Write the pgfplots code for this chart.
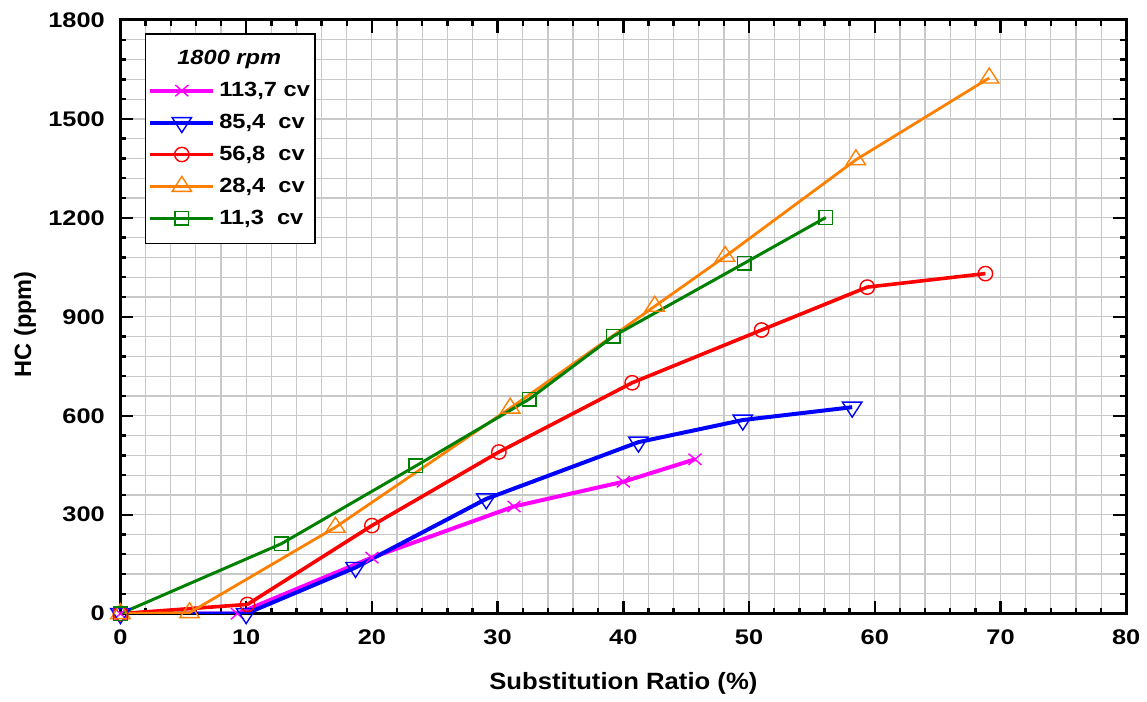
\documentclass[border=0pt]{standalone}
\usepackage{fontspec}
\setmainfont{Liberation Sans}[FakeStretch=1.15]
\newfontfamily\tickfont{Liberation Sans}[FakeStretch=1.2]
\newfontfamily\xlabfont{Liberation Sans}[FakeStretch=1.09]
\newfontfamily\ylabfont{Liberation Sans}
\usepackage{pgfplots}
\pgfplotsset{compat=1.18}
\usetikzlibrary{calc}
\definecolor{cmag}{RGB}{255,0,255}
\definecolor{cblue}{RGB}{0,0,255}
\definecolor{cred}{RGB}{255,0,0}
\definecolor{corange}{RGB}{255,128,0}
\definecolor{cgreen}{RGB}{0,128,0}
\definecolor{cgrid}{RGB}{200,200,200}
\begin{document}
\begin{tikzpicture}
\begin{axis}[
  scale only axis, width=504pt, height=297.5pt,
  xmin=0, xmax=80, ymin=0, ymax=1800,
  xtick={0,10,...,80}, ytick={0,300,...,1800},
  minor xtick={2,4,...,78}, minor ytick={60,120,...,1740},
  grid=both,
  major grid style={cgrid, line width=0.6pt},
  minor grid style={cgrid, line width=0.6pt},
  axis line style={line width=1.5pt},
  tick style={black, line width=1.2pt},
  major tick length=6.5pt, minor tick length=3pt,
  tick align=inside, xtick pos=both, ytick pos=both,
  xticklabel pos=left, yticklabel pos=left,
  /pgf/number format/assume math mode=true,
  /pgf/number format/1000 sep={},
  scaled ticks=false,
  ticklabel style={font=\tickfont\bfseries\fontsize{10.6}{12}\selectfont},
  yticklabel style={xshift=-4.3pt},
  xticklabel style={yshift=-4.5pt},
  legend image code/.code={\draw[mark repeat=2,mark phase=2] plot coordinates {(0pt,0pt) (15.75pt,0pt) (31.5pt,0pt)};},
  legend cell align=left,
  legend style={at={(rel axis cs:0.0241,0.978)}, anchor=north west,
    draw=black, line width=0.75pt, fill=white,
    font=\bfseries\fontsize{10.3}{11}\selectfont,
    row sep=4pt, column sep=1pt, inner xsep=1.5pt, inner ysep=6.5pt,
    nodes={inner sep=1pt, text height=8pt, text depth=2pt}},
]
\coordinate (sw) at (rel axis cs:0,0);
\coordinate (ne) at (rel axis cs:1,1);
\addlegendimage{empty legend}
\addlegendentry{\hspace*{-21pt}\itshape 1800 rpm}
\addplot[cmag, line width=2pt, mark=x, mark size=4pt, mark options={line width=0.7pt, xscale=1.15}]
  coordinates {(0,0) (9.3,0) (20,170) (31.3,325) (40,400) (45.7,468)};
\addlegendentry{113,7 cv}
\addplot[cblue, line width=2pt, mark=triangle, mark size=5pt, mark options={line width=0.7pt, fill=white, rotate=180, xscale=1.12}]
  coordinates {(0,0) (10,0) (18.7,140) (29.1,348) (41.2,520) (49.5,587) (58.2,626)};
\addlegendentry{85,4\ \ cv}
\addplot[cred, line width=1.8pt, mark=o, mark size=3.6pt, mark options={line width=0.7pt, fill=white}]
  coordinates {(0,0) (10.1,28) (20,267) (30.1,490) (40.7,700) (51,860) (59.4,990) (68.8,1031)};
\addlegendentry{56,8\ \ cv}
\addplot[corange, line width=1.4pt, mark=triangle, mark size=5pt, mark options={line width=0.7pt, fill=white, xscale=1.12}]
  coordinates {(0,0) (5.5,3) (17.1,262) (31,623) (42.5,932) (48.1,1083) (58.5,1376) (69.1,1624)};
\addlegendentry{28,4\ \ cv}
\addplot[cgreen, line width=1.5pt, mark=square, mark size=3.4pt, mark options={line width=0.7pt, fill=white}]
  coordinates {(0,0) (12.8,212) (23.5,448) (32.5,650) (39.2,841) (49.6,1062) (56.1,1201)};
\addlegendentry{11,3\ \ cv}
\end{axis}
\node[rotate=90, font=\ylabfont\bfseries\fontsize{11.8}{13}\selectfont] at ($(sw)!0.5!(sw|-ne)+(-47.85pt,-3.75pt)$) {HC (ppm)};
\node[font=\xlabfont\bfseries\fontsize{11.8}{13}\selectfont] at ($(sw)!0.5!(ne|-sw)+(0,-35pt)$) {Substitution Ratio (\%)};
\path (sw)++(-60.35pt,-42.5pt) rectangle ($(ne)+(9.15pt,10pt)$);
\end{tikzpicture}
\end{document}
